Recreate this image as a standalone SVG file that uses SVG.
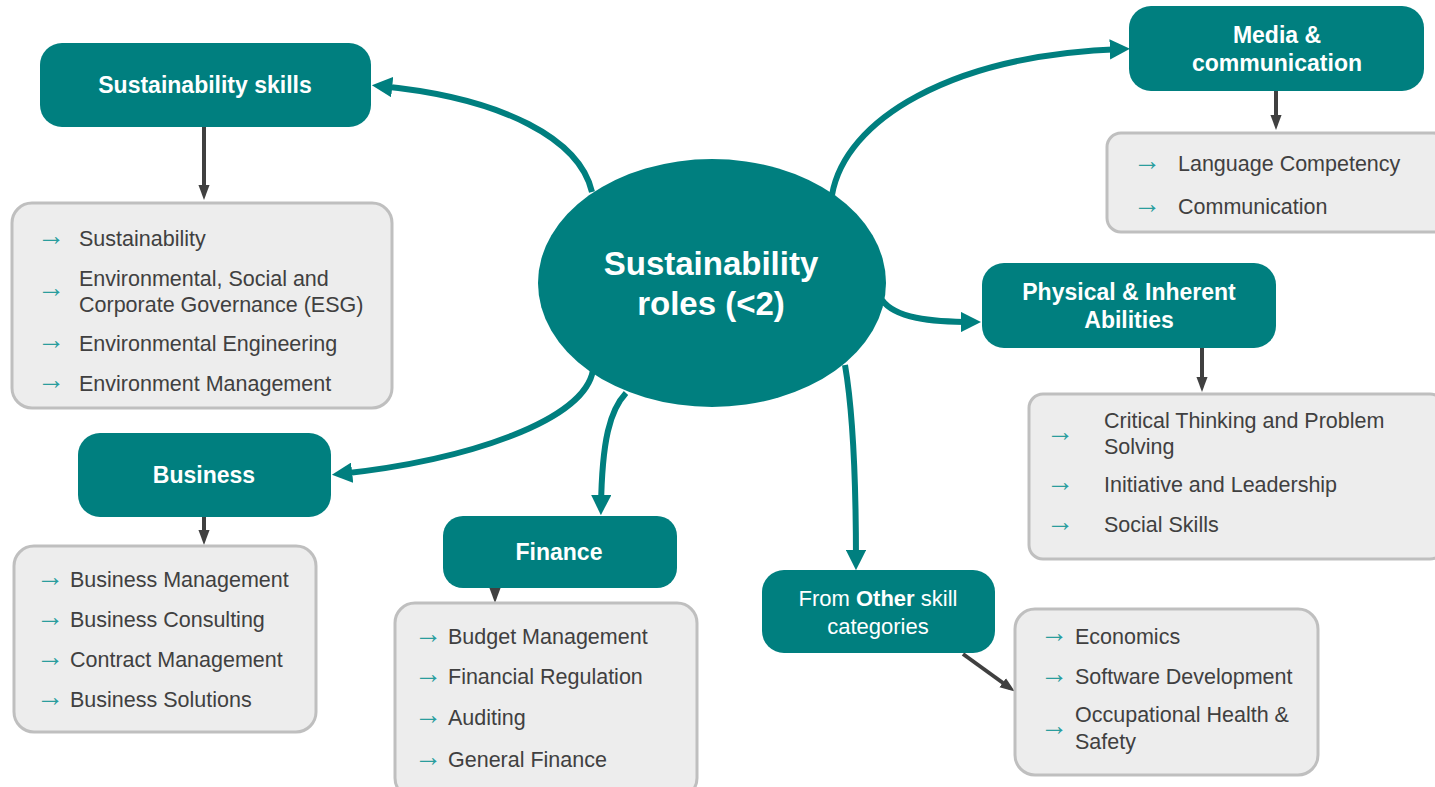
<svg xmlns="http://www.w3.org/2000/svg" width="1435" height="787" viewBox="0 0 1435 787">
<style>
.hdr{fill:#007F7F}
.hdrt{font-family:"Liberation Sans",Arial,sans-serif;font-weight:bold;font-size:23px;fill:#FFFFFF;text-anchor:middle}
.hdrr{font-family:"Liberation Sans",Arial,sans-serif;font-size:22px;fill:#FFFFFF;text-anchor:middle}
.lst{fill:#EDEDED;stroke:#BFBFBF;stroke-width:3}
.it{font-family:"Liberation Sans",Arial,sans-serif;font-size:21.5px;fill:#404040}
.bl{font-family:"Liberation Serif","DejaVu Serif",serif;font-size:28px;fill:#2A9D9D}
.con{fill:none;stroke:#007F7F;stroke-width:6;marker-end:url(#ah)}
.sub{fill:none;stroke:#404040;stroke-width:4;marker-end:url(#ad)}
</style>
<defs>
<marker id="ah" viewBox="0 0 10 10" refX="6" refY="5" markerWidth="3.4" markerHeight="3.4" orient="auto" markerUnits="strokeWidth"><path d="M0,0 L10,5 L0,10 z" fill="#007F7F"/></marker>
<marker id="ad" viewBox="0 0 10 10" refX="6" refY="5" markerWidth="3.75" markerHeight="3.75" orient="auto" markerUnits="strokeWidth"><path d="M0,1.3 L10,5 L0,8.7 z" fill="#404040"/></marker>
</defs>

<g id="connectors">
<path class="con" d="M592,192 C580,140 505,98 380,86"/>
<path class="con" d="M832,195 C845,120 950,55 1122,49"/>
<path class="con" d="M882,300 C895,318 930,322 973,322"/>
<path class="con" d="M593,370 C585,420 470,460 340,474"/>
<path class="con" d="M626,393 C610,410 602,440 601,507"/>
<path class="con" d="M845,365 C851,400 856,450 856,562"/>
<path class="sub" d="M204,127 L204,194"/>
<path class="sub" d="M1276,91 L1276,124"/>
<path class="sub" d="M1202,348 L1202,386"/>
<path class="sub" d="M204,517 L204,539"/>
<path class="sub" d="M495,588 L495,597"/>
<path class="sub" d="M963,654 L1010,688"/>
</g>

<g id="center">
<ellipse cx="712" cy="283" rx="174" ry="124" fill="#007F7F"/>
<text class="hdrt" x="711" y="275" style="font-size:33px">Sustainability</text>
<text class="hdrt" x="711" y="315" style="font-size:33px">roles (&lt;2)</text>
</g>

<g id="sustainability-skills">
<rect class="hdr" x="40" y="43" width="331" height="84" rx="22"/>
<text class="hdrt" x="205" y="93">Sustainability skills</text>
</g>
<g id="sustainability-list">
<rect class="lst" x="12" y="203" width="380" height="205" rx="20"/>
<text class="bl" x="37" y="245">→</text>
<text class="it" x="79" y="246">Sustainability</text>
<text class="bl" x="37" y="297">→</text>
<text class="it" x="79" y="286">Environmental, Social and</text>
<text class="it" x="79" y="312">Corporate Governance (ESG)</text>
<text class="bl" x="37" y="349">→</text>
<text class="it" x="79" y="351">Environmental Engineering</text>
<text class="bl" x="37" y="389">→</text>
<text class="it" x="79" y="391">Environment Management</text>
</g>

<g id="media">
<rect class="hdr" x="1129" y="6" width="295" height="85" rx="22"/>
<text class="hdrt" x="1277" y="43">Media &amp;</text>
<text class="hdrt" x="1277" y="71">communication</text>
</g>
<g id="media-list">
<rect class="lst" x="1107" y="133" width="340" height="99" rx="14"/>
<text class="bl" x="1133" y="170">→</text>
<text class="it" x="1178" y="171">Language Competency</text>
<text class="bl" x="1133" y="213">→</text>
<text class="it" x="1178" y="214">Communication</text>
</g>

<g id="physical">
<rect class="hdr" x="982" y="263" width="294" height="85" rx="22"/>
<text class="hdrt" x="1129" y="300">Physical &amp; Inherent</text>
<text class="hdrt" x="1129" y="328">Abilities</text>
</g>
<g id="physical-list">
<rect class="lst" x="1029" y="394" width="415" height="165" rx="14"/>
<text class="bl" x="1046" y="441">→</text>
<text class="it" x="1104" y="428">Critical Thinking and Problem</text>
<text class="it" x="1104" y="454">Solving</text>
<text class="bl" x="1046" y="491">→</text>
<text class="it" x="1104" y="492">Initiative and Leadership</text>
<text class="bl" x="1046" y="531">→</text>
<text class="it" x="1104" y="532">Social Skills</text>
</g>

<g id="business">
<rect class="hdr" x="78" y="433" width="253" height="84" rx="22"/>
<text class="hdrt" x="204" y="483">Business</text>
</g>
<g id="business-list">
<rect class="lst" x="14" y="546" width="302" height="186" rx="20"/>
<text class="bl" x="36" y="586">→</text>
<text class="it" x="70" y="587">Business Management</text>
<text class="bl" x="36" y="626">→</text>
<text class="it" x="70" y="627">Business Consulting</text>
<text class="bl" x="36" y="666">→</text>
<text class="it" x="70" y="667">Contract Management</text>
<text class="bl" x="36" y="706">→</text>
<text class="it" x="70" y="707">Business Solutions</text>
</g>

<g id="finance">
<rect class="hdr" x="443" y="516" width="234" height="72" rx="20"/>
<text class="hdrt" x="559" y="560">Finance</text>
</g>
<g id="finance-list">
<rect class="lst" x="395" y="603" width="302" height="195" rx="20"/>
<text class="bl" x="414" y="643">→</text>
<text class="it" x="448" y="644">Budget Management</text>
<text class="bl" x="414" y="683">→</text>
<text class="it" x="448" y="684">Financial Regulation</text>
<text class="bl" x="414" y="724">→</text>
<text class="it" x="448" y="725">Auditing</text>
<text class="bl" x="414" y="766">→</text>
<text class="it" x="448" y="767">General Finance</text>
</g>

<g id="other">
<rect class="hdr" x="762" y="570" width="233" height="83" rx="22"/>
<text class="hdrr" x="878" y="606">From <tspan font-weight="bold">Other</tspan> skill</text>
<text class="hdrr" x="878" y="634">categories</text>
</g>
<g id="other-list">
<rect class="lst" x="1015" y="609" width="303" height="166" rx="20"/>
<text class="bl" x="1040" y="642">→</text>
<text class="it" x="1075" y="644">Economics</text>
<text class="bl" x="1040" y="683">→</text>
<text class="it" x="1075" y="684">Software Development</text>
<text class="bl" x="1040" y="735">→</text>
<text class="it" x="1075" y="722">Occupational Health &amp;</text>
<text class="it" x="1075" y="749">Safety</text>
</g>
</svg>
